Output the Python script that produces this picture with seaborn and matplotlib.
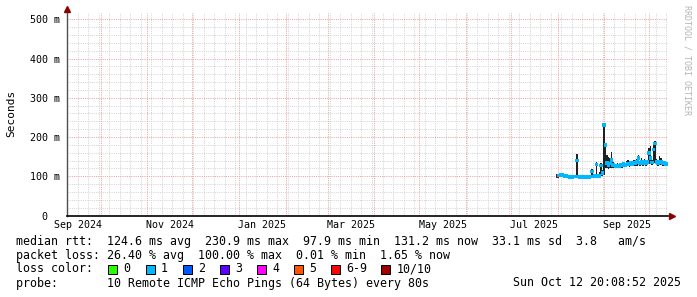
import numpy as np
import pandas as pd
import matplotlib
matplotlib.use("Agg")
import matplotlib.pyplot as plt
import matplotlib.transforms as mtrans
from matplotlib.patches import Rectangle
import seaborn as sns

# ---------------- data ----------------
start_day = "2025-08-01"
median_ms = [100, 102, 103, 103, 102, 101, 100, 99, 98, 99, 98, 99, 99, 140, 99, 98, 98, 99, 98, 98,
             99, 98, 99, 112, 99, 100, 130, 101, 100, 128, 108, 231, 180, 134, 128, 132, 141, 129, 127, 126,
             127, 126, 129, 128, 131, 129, 130, 133, 130, 134, 131, 135, 132, 136, 146, 134, 138, 133, 137, 134,
             136, 159, 146, 135, 168, 183, 137, 134, 138, 136, 132, 134, 131]
smoke_hi_ms = [102, 104, 105, 105, 104, 103, 102, 101, 100, 101, 100, 101, 102, 157, 102, 100, 100, 101, 100, 100,
               101, 101, 103, 118, 102, 104, 136, 106, 110, 133, 115, 236, 186, 153, 150, 146, 161, 137, 132, 131,
               133, 131, 135, 133, 137, 135, 138, 141, 136, 140, 137, 142, 139, 143, 155, 140, 146, 139, 143, 140,
               142, 172, 176, 142, 181, 189, 145, 141, 151, 147, 138, 140, 137]
smoke_lo_ms = [98, 100, 100, 101, 100, 99, 98, 97, 97, 97, 97, 97, 97, 98, 97, 97, 97, 97, 97, 97,
               97, 97, 97, 98, 97, 98, 99, 98, 98, 100, 100, 104, 120, 120, 118, 120, 122, 120, 122, 121,
               122, 121, 123, 122, 124, 123, 124, 125, 124, 126, 125, 126, 125, 127, 128, 127, 128, 126, 128, 127,
               128, 130, 130, 128, 132, 135, 129, 127, 128, 128, 126, 127, 126]
loss_cat = [7] + [1] * 72          # index into loss_labels / loss_colors

loss_labels = ["0", "1", "2", "3", "4", "5", "6-9", "10/10"]
loss_colors = ["#26ff00", "#00b8ff", "#0059ff", "#5e00ff", "#ff00ff", "#ff5500", "#ff0000", "#a10000"]

y_ticks = [0.0, 0.1, 0.2, 0.3, 0.4, 0.5]
y_tick_labels = ["0", "100 m", "200 m", "300 m", "400 m", "500 m"]
x_label_months = ["2024-09", "2024-11", "2025-01", "2025-03", "2025-05", "2025-07", "2025-09"]
x_tick_labels = ["Sep 2024", "Nov 2024", "Jan 2025", "Mar 2025", "May 2025", "Jul 2025", "Sep 2025"]

legend_rtt = "median rtt:  124.6 ms avg  230.9 ms max  97.9 ms min  131.2 ms now  33.1 ms sd  3.8   am/s"
legend_loss = "packet loss: 26.40 % avg  100.00 % max  0.01 % min  1.65 % now"
probe_text = "probe:       10 Remote ICMP Echo Pings (64 Bytes) every 80s"
stamp_text = "Sun Oct 12 20:08:52 2025"

# ---------------- frame ----------------
t_start = pd.Timestamp("2024-09-08 12:00")
t_end = pd.Timestamp("2025-10-13 12:00")
W, H = 697, 297

plt.rcParams["font.family"] = ["DejaVu Sans Mono"]
fig = plt.figure(figsize=(W / 100, H / 100), dpi=100, facecolor="white")
ax = fig.add_axes([67 / W, (H - 215.5) / H, 601 / W, (215.5 - 13) / H])
ax.set_facecolor("white")

dates = pd.date_range(start_day, periods=len(median_ms), freq="D")
df = pd.DataFrame({"date": dates,
                   "median": np.array(median_ms) / 1000.0,
                   "hi": np.array(smoke_hi_ms) / 1000.0,
                   "lo": np.array(smoke_lo_ms) / 1000.0,
                   "loss": [loss_labels[i] for i in loss_cat]})

# grid (1px dotted)
dot = (0, (1, 1.2))
weeks = pd.date_range(t_start, t_end, freq="W-SUN")
months = pd.date_range("2024-10-01", t_end, freq="MS")
gkw = dict(lw=0.72, ls=dot)
for w in weeks:
    ax.axvline(w, color="#d4d4d4", zorder=0.5, **gkw)
for v in np.arange(0.02, 0.52, 0.02):
    if abs(v * 10 - round(v * 10)) > 1e-6:
        ax.axhline(v, color="#d4d4d4", zorder=0.5, **gkw)
for m in months:
    ax.axvline(m, color="#eea0a0", zorder=0.6, **gkw)
for v in y_ticks[1:]:
    ax.axhline(v, color="#eea0a0", zorder=0.6, **gkw)

# smoke
ax.fill_between(df["date"], df["lo"], df["hi"], step="mid", color="#202020", lw=0, zorder=2)
# median, coloured by loss
sns.scatterplot(data=df, x="date", y="median", hue="loss", hue_order=loss_labels,
                palette=dict(zip(loss_labels, loss_colors)), marker="s", s=6.5, linewidth=0,
                legend=False, ax=ax, zorder=3)

ax.set_xlim(t_start, t_end)
ax.set_ylim(0, (215.5 - 13) / 392.4)

# ticks
mids = []
for m in x_label_months:
    p = pd.Period(m, freq="M")
    s = p.start_time
    e = (p + 1).start_time
    mids.append(s + (e - s) / 2)
ax.set_xticks(mids, x_tick_labels)
ax.set_yticks(y_ticks, y_tick_labels)
ax.tick_params(axis="x", length=0, pad=3, labelsize=7.2, colors="black")
ax.tick_params(axis="y", length=0, pad=5, labelsize=7.2, colors="black")
ax.set_xlabel("")
ax.set_ylabel("")
zl = ax.get_yticklabels()[0]
zl.set_transform(zl.get_transform() + mtrans.ScaledTranslation(-0.13, 0, fig.dpi_scale_trans))

for s in ["top", "right"]:
    ax.spines[s].set_visible(False)
ax.spines["left"].set_color("#505050")
ax.spines["left"].set_linewidth(1.0)
ax.spines["bottom"].set_color("black")
ax.spines["bottom"].set_linewidth(1.2)
ax.spines["left"].set_zorder(5)
ax.spines["bottom"].set_zorder(5)

# arrows
ax.plot([0], [1 + 4 / 202.5], marker="^", ms=4.5, color="#8b0000", transform=ax.transAxes, clip_on=False)
ax.plot([1 + 4 / 601], [0], marker=">", ms=4.5, color="#8b0000", transform=ax.transAxes, clip_on=False)


def fx(x):
    return x / W


def fy(y):
    return 1 - y / H


fs = 8.4
fig.text(fx(11), fy(113), "Seconds", rotation=90, fontsize=8, ha="center", va="center")
fig.text(fx(687), fy(60), "RRDTOOL / TOBI OETIKER", rotation=-90, fontsize=6, color="#b4b4b4",
         ha="center", va="center")

fig.text(fx(16), fy(241), legend_rtt, fontsize=fs, ha="left", va="center")
fig.text(fx(16), fy(255), legend_loss, fontsize=fs, ha="left", va="center")
fig.text(fx(16), fy(269), "loss color:", fontsize=fs, ha="left", va="center")
sq_x = [108, 145.5, 182.5, 219.5, 256.8, 293.8, 330.7, 381.4]
for x, lab, col in zip(sq_x, loss_labels, loss_colors):
    fig.patches.append(Rectangle((fx(x), fy(273.5)), 9 / W, 9 / H, transform=fig.transFigure,
                                 facecolor=col, edgecolor="black", lw=0.72))
    fig.text(fx(x + 15.6), fy(269), lab, fontsize=fs, ha="left", va="center")
fig.text(fx(16), fy(283), probe_text, fontsize=fs, ha="left", va="center")
fig.text(fx(681), fy(283), stamp_text, fontsize=fs, ha="right", va="center")

fig.savefig("out.png", dpi=100, facecolor="white")
